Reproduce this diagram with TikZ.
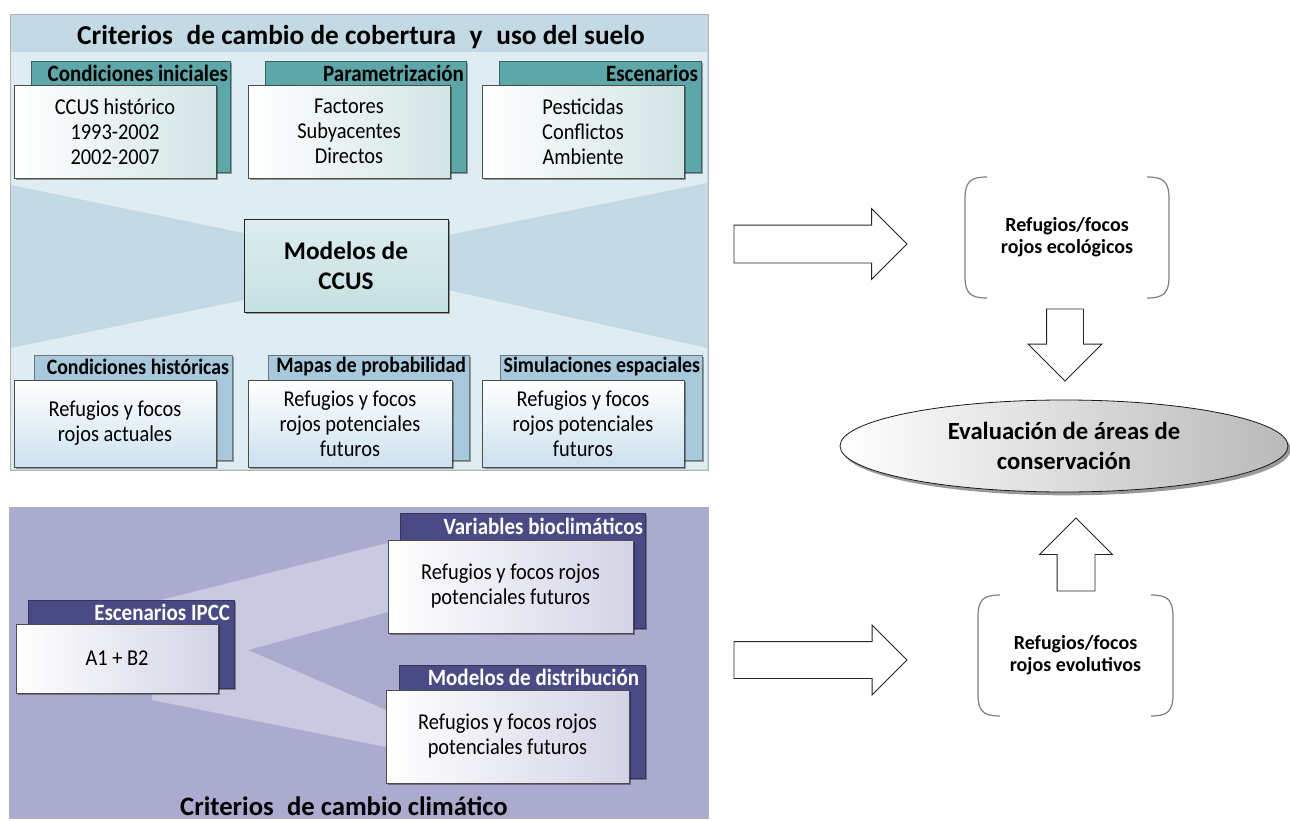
\documentclass[tikz,border=0pt]{standalone}
\usepackage{fontspec}
\setmainfont{Carlito}
\newfontfamily\condfont{Carlito}[FakeStretch=0.9]
\usetikzlibrary{shapes.arrows,shapes.geometric,shadows,calc}
\definecolor{panA}{HTML}{C3D9E4}
\definecolor{panAlt}{HTML}{DFECF2}
\definecolor{tealtab}{HTML}{5EA7A9}
\definecolor{tealbox}{HTML}{D2E4E5}
\definecolor{bluetab}{HTML}{A8C8DB}
\definecolor{bluebox}{HTML}{CDE1EF}
\definecolor{panB}{HTML}{ABABCF}
\definecolor{panBlt}{HTML}{C9C9E1}
\definecolor{navytab}{HTML}{4A4A85}
\definecolor{navybox}{HTML}{D3D3E6}
\definecolor{ccusbox}{HTML}{C6E0E2}
\definecolor{brkgray}{HTML}{808080}
\newcommand{\rnode}[7]{\node[#1, minimum width={(#5-#3)*0.75pt}, minimum height={(#6-#4)*0.75pt}] (#2) at ({(#3+#5)/2},{(#4+#6)/2}) {#7};}
\newcommand{\boxfont}{\fontsize{17}{18.75}\selectfont\condfont}
\newcommand{\tabfont}{\fontsize{17.5}{19}\selectfont\condfont\bfseries}
\newcommand{\tabfontb}{\fontsize{16.5}{19}\selectfont\condfont\bfseries}
\newcommand{\brackets}[1]{%
  \draw[brk] ($(#1.north west)+(22,0)$) .. controls ($(#1.north west)+(5,0)$) and ($(#1.north west)+(0,5)$) .. ($(#1.north west)+(0,22)$)
    -- ($(#1.south west)+(0,-22)$) .. controls ($(#1.south west)+(0,-5)$) and ($(#1.south west)+(5,0)$) .. ($(#1.south west)+(22,0)$);
  \draw[brk] ($(#1.north east)+(-22,0)$) .. controls ($(#1.north east)+(-5,0)$) and ($(#1.north east)+(0,5)$) .. ($(#1.north east)+(0,22)$)
    -- ($(#1.south east)+(0,-22)$) .. controls ($(#1.south east)+(0,-5)$) and ($(#1.south east)+(-5,0)$) .. ($(#1.south east)+(-22,0)$);
}
\begin{document}
\begin{tikzpicture}[x=0.75pt,y=-0.75pt,
  every node/.style={inner sep=0pt, outer sep=0pt},
  shad/.style={drop shadow={shadow xshift=1.5pt, shadow yshift=-1.5pt, opacity=0.35, fill=black}},
  panel/.style={draw=gray!60, line width=0.5pt},
  tabA/.style={fill=tealtab, draw=tealtab!60!black, line width=0.4pt, shad},
  boxA/.style={draw=gray!60!black, line width=0.4pt, left color=white, right color=tealbox, shad, align=center, font=\boxfont},
  tabB/.style={fill=bluetab, draw=bluetab!60!black, line width=0.4pt, shad},
  boxB/.style={draw=gray!60!black, line width=0.4pt, top color=white, bottom color=bluebox, shad, align=center, font=\boxfont},
  tabC/.style={fill=navytab, draw=navytab!70!black, line width=0.4pt, shad},
  boxC/.style={draw=gray!60!black, line width=0.4pt, left color=white, right color=navybox, shad, align=center, font=\boxfont},
  ccus/.style={draw=gray!30!black, line width=0.5pt, top color=ccusbox!60, bottom color=ccusbox, shad, align=center, font=\fontsize{19}{22.5}\selectfont\bfseries},
  tlabel/.style={anchor=east, font=\tabfont},
  tlabelb/.style={anchor=east, font=\tabfontb},
  wlabel/.style={anchor=east, font=\tabfont, text=white},
  brk/.style={draw=brkgray, line width=0.9pt},
  brkbox/.style={align=center, font=\fontsize{15}{16.5}\selectfont\bfseries},
  barrow/.style={single arrow, draw=gray!30!black, fill=white, line width=0.6pt, single arrow tip angle=90, anchor=tail}
]
\useasboundingbox (0,0) rectangle (1290,821);
\fill[white] (0,0) rectangle (1290,821);

% ---------- top panel ----------
\rnode{panel, fill=panA}{topP}{10}{14}{708}{470}{}
\fill[panAlt] (11,52) -- (707,52) -- (707,183) -- (448,235) -- (448,290) -- (707,348) -- (707,469) -- (11,469) -- (11,348) -- (244,300) -- (244,233) -- (11,185) -- cycle;
\node[font=\fontsize{20.5}{24}\selectfont\bfseries] (topT) at (361,37) {Criterios\enspace de cambio de cobertura\enspace y\enspace uso del suelo};

\rnode{tabA}{t1}{31}{61}{230}{172}{}
\rnode{boxA}{b1}{14}{85}{216}{178}{CCUS histórico\\1993-2002\\2002-2007}
\node[tlabel] (t1l) at (228,73) {Condiciones iniciales};
\rnode{tabA}{t2}{265}{61}{466}{172}{}
\rnode{boxA}{b2}{248}{85}{450}{178}{Factores\\Subyacentes\\Directos}
\node[tlabel] (t2l) at (464,73) {Parametrización};
\rnode{tabA}{t3}{499}{61}{701}{172}{}
\rnode{boxA}{b3}{482}{85}{684}{178}{Pesticidas\\Conflictos\\Ambiente}
\node[tlabel] (t3l) at (698,73) {Escenarios};

\rnode{ccus}{mod}{244}{219}{448}{312}{Modelos de\\CCUS}

\rnode{tabB}{t4}{34}{355}{232}{460}{}
\rnode{boxB}{b4}{14}{380}{216}{467}{Refugios y focos\\rojos actuales}
\node[tlabelb] (t4l) at (229,367) {Condiciones históricas};
\rnode{tabB}{t5}{268}{355}{469}{460}{}
\rnode{boxB}{b5}{248}{380}{452}{467}{Refugios y focos\\rojos potenciales\\futuros}
\node[tlabelb] (t5l) at (466,367) {Mapas de probabilidad};
\rnode{tabB}{t6}{500}{355}{702}{460}{}
\rnode{boxB}{b6}{482}{380}{684}{467}{Refugios y focos\\rojos potenciales\\futuros}
\node[tlabelb] (t6l) at (700,367) {Simulaciones espaciales};

% ---------- bottom panel ----------
\rnode{panel, fill=panB}{botP}{9}{507}{708}{818}{}
\fill[panBlt] (161,600) -- (388,543) -- (388,612) -- (248,650) -- (386,710) -- (386,747) -- (152,700) -- cycle;

\rnode{tabC}{t7}{28}{600}{234}{688}{}
\rnode{boxC}{b7}{16}{624}{218}{693}{A1 + B2}
\node[wlabel] (t7l) at (230,612) {Escenarios IPCC};
\rnode{tabC}{t8}{400}{513}{645}{628}{}
\rnode{boxC}{b8}{388}{540}{633}{633}{Refugios y focos rojos\\potenciales futuros}
\node[wlabel] (t8l) at (643,526) {Variables bioclimáticos};
\rnode{tabC}{t9}{399}{665}{645}{778}{}
\rnode{boxC}{b9}{386}{690}{629}{783}{Refugios y focos rojos\\potenciales futuros}
\node[wlabel] (t9l) at (639,677) {Modelos de distribución};

\node[font=\fontsize{20}{25}\selectfont\bfseries] (botT) at (344,806) {Criterios\enspace de cambio climático};

% ---------- right side ----------
\rnode{brkbox}{eco}{965}{177}{1169}{298}{Refugios/focos\\rojos ecológicos}
\brackets{eco}
\rnode{brkbox}{evo}{978}{595}{1173}{716}{Refugios/focos\\rojos evolutivos}
\brackets{evo}

\node[ellipse, draw=gray!20!black, line width=0.6pt, left color=white, right color=gray!55,
      drop shadow={shadow xshift=2pt, shadow yshift=-2.5pt, opacity=0.4, fill=black},
      minimum width=336pt, minimum height=69pt, align=center,
      font=\fontsize{18.5}{22.5}\selectfont\bfseries] (eval) at (1064,446) {Evaluación de áreas de\\conservación};

\node[barrow, minimum height=129.75pt, single arrow head extend=12.375pt] (a1) at (734,244) {\rule{0pt}{27.75pt}};
\node[barrow, minimum height=129.75pt, single arrow head extend=12.375pt] (a2) at (734,660) {\rule{0pt}{27pt}};
\node[barrow, rotate=-90, minimum height=54pt, single arrow head extend=13.875pt] (a3) at (1065,309) {\rule{0pt}{27pt}};
\node[barrow, rotate=90, minimum height=54.75pt, single arrow head extend=13.125pt] (a4) at (1076,591) {\rule{0pt}{27.75pt}};
\end{tikzpicture}
\end{document}
